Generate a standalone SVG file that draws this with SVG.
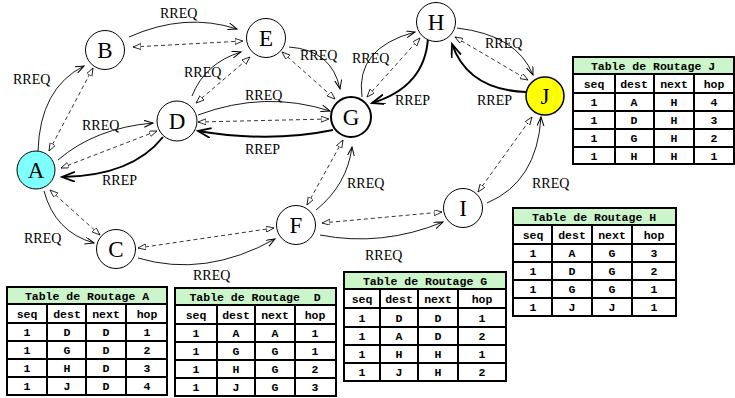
<svg xmlns="http://www.w3.org/2000/svg" width="735" height="398" viewBox="0 0 735 398">
<style>
.n{fill:#fff;stroke:#000;stroke-width:1}
.nt{font-family:"Liberation Serif",serif;font-size:23px;text-anchor:middle}
.lb{font-family:"Liberation Serif",serif;font-size:14px}
.s{fill:none;stroke:#000;stroke-width:0.9;marker-end:url(#ar)}
.d{fill:none;stroke:#000;stroke-width:0.8;stroke-dasharray:4,3;marker-start:url(#ad);marker-end:url(#ad)}
.r{fill:none;stroke:#000;stroke-width:2;marker-end:url(#ap)}
.tb{fill:#fff;stroke:#000;stroke-width:2}
.th{fill:#ccf5cc}
.gl{stroke:#000;stroke-width:2}
.tt{font-family:"Liberation Mono",monospace;font-weight:bold;font-size:11.5px;text-anchor:middle;white-space:pre}
</style>
<defs>
<marker id="ar" markerUnits="userSpaceOnUse" markerWidth="12" markerHeight="10" refX="9" refY="3.5" orient="auto"><path d="M0,0 L9,3.5 L0,7" fill="none" stroke="#000" stroke-width="1"/></marker>
<marker id="ad" markerUnits="userSpaceOnUse" markerWidth="12" markerHeight="10" refX="8" refY="3" orient="auto-start-reverse"><path d="M0,0 L8,3 L0,6 Z" fill="#fff" stroke="#000" stroke-width="0.8"/></marker>
<marker id="ap" markerUnits="userSpaceOnUse" markerWidth="16" markerHeight="14" refX="13" refY="5" orient="auto"><path d="M0,0 L13,5 L0,10" fill="none" stroke="#000" stroke-width="1.8"/></marker>
</defs>

<g id="connectors">
<path class="s" d="M38,151 Q40,88 84,66"/>
<path class="d" d="M49,151 L93,68"/>
<path class="s" d="M129,37 Q185,12 237,29"/>
<path class="d" d="M133,47 L243,41"/>
<path class="s" d="M58,160 Q95,128 153,123"/>
<path class="d" d="M61,168 L157,131"/>
<path class="r" d="M163,137 Q132,176 62,177"/>
<path class="s" d="M192,96 Q205,63 241,52"/>
<path class="d" d="M196,103 L250,57"/>
<path class="s" d="M289,47 Q332,50 340,89"/>
<path class="d" d="M282,52 L335,99"/>
<path class="s" d="M198,115 Q265,90 330,111"/>
<path class="d" d="M198,122 L329,119"/>
<path class="r" d="M333,130 Q270,143 198,131"/>
<path class="s" d="M362,97 Q355,48 415,32"/>
<path class="d" d="M367,97 L420,38"/>
<path class="r" d="M428,38 Q425,87 372,103"/>
<path class="s" d="M457,28 Q517,35 533,75"/>
<path class="d" d="M455,37 L528,80"/>
<path class="r" d="M526,92 Q468,90 452,44"/>
<path class="s" d="M44,191 Q55,232 94,243"/>
<path class="d" d="M50,190 L100,235"/>
<path class="s" d="M138,258 Q205,278 275,239"/>
<path class="d" d="M138,248 L274,228"/>
<path class="s" d="M316,210 Q347,185 352,147"/>
<path class="d" d="M307,205 L343,140"/>
<path class="s" d="M320,235 Q382,247 443,222"/>
<path class="d" d="M322,223 L442,212"/>
<path class="s" d="M487,203 Q537,182 541,117"/>
<path class="d" d="M478,192 L532,117"/>
</g>

<g id="labels" class="lb">
<text x="13" y="84">RREQ</text>
<text x="160" y="18">RREQ</text>
<text x="82" y="130">RREQ</text>
<text x="102" y="185">RREP</text>
<text x="184" y="77">RREQ</text>
<text x="300" y="60">RREQ</text>
<text x="245" y="100">RREQ</text>
<text x="245" y="154">RREP</text>
<text x="352" y="63">RREQ</text>
<text x="395" y="105">RREP</text>
<text x="485" y="48">RREQ</text>
<text x="477" y="105">RREP</text>
<text x="24" y="243">RREQ</text>
<text x="193" y="280">RREQ</text>
<text x="347" y="188">RREQ</text>
<text x="365" y="260">RREQ</text>
<text x="532" y="188">RREQ</text>
</g>

<g id="node-A"><circle class="n" cx="36" cy="170" r="19" style="fill:#80ffff"/><text class="nt" x="36" y="178">A</text></g>
<g id="node-B"><circle class="n" cx="105" cy="50" r="19.5"/><text class="nt" x="105" y="58">B</text></g>
<g id="node-C"><circle class="n" cx="116" cy="249" r="19.5"/><text class="nt" x="116" y="257">C</text></g>
<g id="node-D"><circle class="n" cx="177" cy="121" r="20"/><text class="nt" x="177" y="129">D</text></g>
<g id="node-E"><circle class="n" cx="266" cy="38" r="19.5"/><text class="nt" x="266" y="46">E</text></g>
<g id="node-F"><circle class="n" cx="296" cy="225" r="19.5"/><text class="nt" x="296" y="233">F</text></g>
<g id="node-G"><circle class="n" cx="351" cy="117" r="20" style="stroke-width:2"/><text class="nt" x="351" y="125">G</text></g>
<g id="node-H"><circle class="n" cx="436" cy="22" r="19.5"/><text class="nt" x="436" y="30">H</text></g>
<g id="node-I"><circle class="n" cx="463" cy="208" r="19.5"/><text class="nt" x="463" y="216">I</text></g>
<g id="node-J"><circle class="n" cx="545" cy="96" r="19" style="fill:#ffff00;stroke-width:1.5"/><text class="nt" x="545" y="104">J</text></g>

<g id="table-A" transform="translate(7,287)">
<rect class="tb" x="0" y="0" width="160" height="108"/>
<rect class="th" x="1" y="1" width="158" height="16"/>
<path class="gl" d="M0,17H160M0,36H160M0,54H160M0,72H160M0,90H160M40,17V108M79,17V108M119,17V108"/>
<text class="tt" x="80" y="13">Table de Routage A</text>
<text class="tt" x="20" y="31">seq</text><text class="tt" x="60" y="31">dest</text><text class="tt" x="99" y="31">next</text><text class="tt" x="140" y="31">hop</text>
<text class="tt" x="20" y="49">1</text><text class="tt" x="60" y="49">D</text><text class="tt" x="99" y="49">D</text><text class="tt" x="140" y="49">1</text>
<text class="tt" x="20" y="67">1</text><text class="tt" x="60" y="67">G</text><text class="tt" x="99" y="67">D</text><text class="tt" x="140" y="67">2</text>
<text class="tt" x="20" y="85">1</text><text class="tt" x="60" y="85">H</text><text class="tt" x="99" y="85">D</text><text class="tt" x="140" y="85">3</text>
<text class="tt" x="20" y="103">1</text><text class="tt" x="60" y="103">J</text><text class="tt" x="99" y="103">D</text><text class="tt" x="140" y="103">4</text>
</g>

<g id="table-D" transform="translate(175,288)">
<rect class="tb" x="0" y="0" width="161" height="108"/>
<rect class="th" x="1" y="1" width="159" height="16"/>
<path class="gl" d="M0,17H161M0,36H161M0,54H161M0,72H161M0,90H161M42,17V108M80,17V108M120,17V108"/>
<text class="tt" x="80" y="13">Table de Routage  D</text>
<text class="tt" x="21" y="31">seq</text><text class="tt" x="61" y="31">dest</text><text class="tt" x="100" y="31">next</text><text class="tt" x="140" y="31">hop</text>
<text class="tt" x="21" y="49">1</text><text class="tt" x="61" y="49">A</text><text class="tt" x="100" y="49">A</text><text class="tt" x="140" y="49">1</text>
<text class="tt" x="21" y="67">1</text><text class="tt" x="61" y="67">G</text><text class="tt" x="100" y="67">G</text><text class="tt" x="140" y="67">1</text>
<text class="tt" x="21" y="85">1</text><text class="tt" x="61" y="85">H</text><text class="tt" x="100" y="85">G</text><text class="tt" x="140" y="85">2</text>
<text class="tt" x="21" y="103">1</text><text class="tt" x="61" y="103">J</text><text class="tt" x="100" y="103">G</text><text class="tt" x="140" y="103">3</text>
</g>

<g id="table-G" transform="translate(344,272)">
<rect class="tb" x="0" y="0" width="162" height="109"/>
<rect class="th" x="1" y="1" width="160" height="16"/>
<path class="gl" d="M0,17H162M0,36H162M0,55H162M0,73H162M0,91H162M36,17V109M74,17V109M114,17V109"/>
<text class="tt" x="81" y="13">Table de Routage G</text>
<text class="tt" x="18" y="31">seq</text><text class="tt" x="55" y="31">dest</text><text class="tt" x="94" y="31">next</text><text class="tt" x="138" y="31">hop</text>
<text class="tt" x="18" y="50">1</text><text class="tt" x="55" y="50">D</text><text class="tt" x="94" y="50">D</text><text class="tt" x="138" y="50">1</text>
<text class="tt" x="18" y="68">1</text><text class="tt" x="55" y="68">A</text><text class="tt" x="94" y="68">D</text><text class="tt" x="138" y="68">2</text>
<text class="tt" x="18" y="86">1</text><text class="tt" x="55" y="86">H</text><text class="tt" x="94" y="86">H</text><text class="tt" x="138" y="86">1</text>
<text class="tt" x="18" y="104">1</text><text class="tt" x="55" y="104">J</text><text class="tt" x="94" y="104">H</text><text class="tt" x="138" y="104">2</text>
</g>

<g id="table-H" transform="translate(513,208)">
<rect class="tb" x="0" y="0" width="163" height="108"/>
<rect class="th" x="1" y="1" width="161" height="16"/>
<path class="gl" d="M0,17H163M0,36H163M0,54H163M0,72H163M0,90H163M39,17V108M79,17V108M119,17V108"/>
<text class="tt" x="81" y="13">Table de Routage H</text>
<text class="tt" x="20" y="31">seq</text><text class="tt" x="59" y="31">dest</text><text class="tt" x="99" y="31">next</text><text class="tt" x="141" y="31">hop</text>
<text class="tt" x="20" y="49">1</text><text class="tt" x="59" y="49">A</text><text class="tt" x="99" y="49">G</text><text class="tt" x="141" y="49">3</text>
<text class="tt" x="20" y="67">1</text><text class="tt" x="59" y="67">D</text><text class="tt" x="99" y="67">G</text><text class="tt" x="141" y="67">2</text>
<text class="tt" x="20" y="85">1</text><text class="tt" x="59" y="85">G</text><text class="tt" x="99" y="85">G</text><text class="tt" x="141" y="85">1</text>
<text class="tt" x="20" y="103">1</text><text class="tt" x="59" y="103">J</text><text class="tt" x="99" y="103">J</text><text class="tt" x="141" y="103">1</text>
</g>

<g id="table-J" transform="translate(573,57)">
<rect class="tb" x="0" y="0" width="161" height="107"/>
<rect class="th" x="1" y="1" width="159" height="16"/>
<path class="gl" d="M0,17H161M0,36H161M0,54H161M0,72H161M0,90H161M42,17V107M81,17V107M121,17V107"/>
<text class="tt" x="80" y="13">Table de Routage J</text>
<text class="tt" x="21" y="31">seq</text><text class="tt" x="61" y="31">dest</text><text class="tt" x="101" y="31">next</text><text class="tt" x="141" y="31">hop</text>
<text class="tt" x="21" y="49">1</text><text class="tt" x="61" y="49">A</text><text class="tt" x="101" y="49">H</text><text class="tt" x="141" y="49">4</text>
<text class="tt" x="21" y="67">1</text><text class="tt" x="61" y="67">D</text><text class="tt" x="101" y="67">H</text><text class="tt" x="141" y="67">3</text>
<text class="tt" x="21" y="85">1</text><text class="tt" x="61" y="85">G</text><text class="tt" x="101" y="85">H</text><text class="tt" x="141" y="85">2</text>
<text class="tt" x="21" y="103">1</text><text class="tt" x="61" y="103">H</text><text class="tt" x="101" y="103">H</text><text class="tt" x="141" y="103">1</text>
</g>
</svg>
